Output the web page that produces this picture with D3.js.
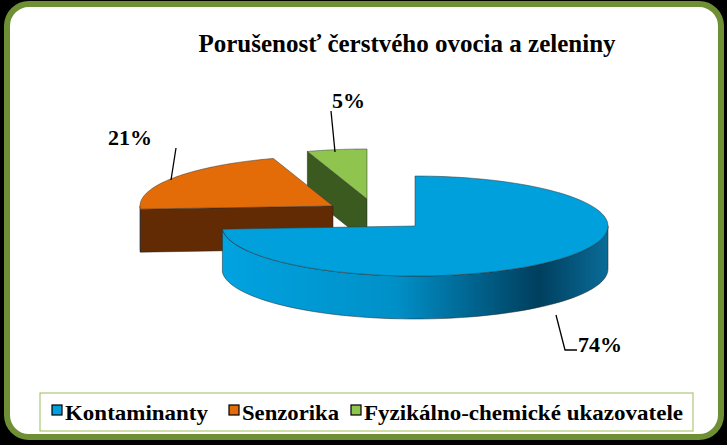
<!DOCTYPE html><html><head><meta charset="utf-8">
<script src="https://cdn.jsdelivr.net/npm/d3@7"></script>
<style>body{margin:0;background:#000}</style></head><body>
<svg id="c" width="727" height="445"></svg>
<script>
const categories=["Kontaminanty","Senzorika","Fyzikálno-chemické ukazovatele"];
const values=[74,21,5];
const labels=["74%","21%","5%"];
const topColors=["#00a0dc","#e36c09","#8fc44f"];
const sideColors=["#0a6f9e","#632b04","#3b5a1f"];
const svg=d3.select("#c");
const defs=svg.append("defs");
const g=defs.append("linearGradient").attr("id","bw").attr("gradientUnits","userSpaceOnUse").attr("x1",222).attr("x2",608).attr("y1",0).attr("y2",0);
[[0,"#00a3e0"],[0.45,"#0090c8"],[0.82,"#003f5e"],[1,"#0a6c98"]].forEach(s=>g.append("stop").attr("offset",s[0]).attr("stop-color",s[1]));
svg.append("rect").attr("x",7).attr("y",4).attr("width",714).attr("height",433).attr("rx",22).attr("fill","#fff").attr("stroke","#6f8f34").attr("stroke-width",6);
svg.append("text").attr("x",407).attr("y",52).attr("text-anchor","middle").attr("font-family","Liberation Serif").attr("font-weight","bold").attr("font-size",25).text("Porušenosť čerstvého ovocia a zeleniny");
const pie=d3.pie().sort(null).value(d=>d)(values);
const rx=193,ry=50,depth=43,cx=415,cy=226;
const offs=[[0,0],[-82,-20],[-48,-27]];
function P(c,a,dz){return [c[0]+rx*Math.sin(a),c[1]-ry*Math.cos(a)+dz];}
const line=d3.line();
[2,1,0].forEach(i=>{
  const p=pie[i],c=[cx+offs[i][0],cy+offs[i][1]];
  const grp=svg.append("g");
  const faces=[];
  if(Math.sin(p.startAngle)<-1e-6)faces.push(p.startAngle);
  if(Math.sin(p.endAngle)>1e-6)faces.push(p.endAngle);
  faces.forEach(a=>{
    const r=P(c,a,0);
    grp.append("path").attr("d",line([c,r,[r[0],r[1]+depth],[c[0],c[1]+depth]])+"Z").attr("fill",sideColors[i]).attr("stroke","#222").attr("stroke-width",0.5);
  });
  const a0=Math.max(p.startAngle,Math.PI/2),a1=Math.min(p.endAngle,1.5*Math.PI);
  if(a1>a0){
    const n=60,top=[],bot=[];
    for(let k=0;k<=n;k++){const a=a0+(a1-a0)*k/n;top.push(P(c,a,0));bot.push(P(c,a,depth));}
    grp.append("path").attr("d",line(top.concat(bot.reverse()))+"Z").attr("fill",i===0?"url(#bw)":sideColors[i]).attr("stroke","#222").attr("stroke-width",0.5);
  }
  const n=120,pts=[c];
  for(let k=0;k<=n;k++){pts.push(P(c,p.startAngle+(p.endAngle-p.startAngle)*k/n,0));}
  grp.append("path").attr("d",line(pts)+"Z").attr("fill",topColors[i]).attr("stroke","#333").attr("stroke-width",0.5);
});
const lab=[{t:labels[0],x:578,y:352,pts:[[556,315],[565,350],[577,350]]},{t:labels[1],x:108,y:145,pts:[[176,148],[171,180]]},{t:labels[2],x:332,y:108,pts:[[331,111],[335,152]]}];
lab.forEach(l=>{
  svg.append("path").attr("d",line(l.pts)).attr("fill","none").attr("stroke","#000").attr("stroke-width",1.3);
  svg.append("text").attr("x",l.x).attr("y",l.y).attr("font-family","Liberation Serif").attr("font-weight","bold").attr("font-size",22).text(l.t);
});
svg.append("rect").attr("x",40).attr("y",393).attr("width",653).attr("height",38).attr("fill","#fff").attr("stroke","#9bbb59");
const lx=[52,229,351];
const lw=[143,97,319];
categories.forEach((c,i)=>{
  svg.append("rect").attr("x",lx[i]).attr("y",405).attr("width",10).attr("height",10).attr("fill",topColors[i]).attr("stroke","#000").attr("stroke-width",1.2);
  svg.append("text").attr("x",lx[i]+13).attr("y",420).attr("font-family","Liberation Serif").attr("font-weight","bold").attr("font-size",22).attr("textLength",lw[i]).attr("lengthAdjust","spacingAndGlyphs").text(c);
});
</script></body></html>
